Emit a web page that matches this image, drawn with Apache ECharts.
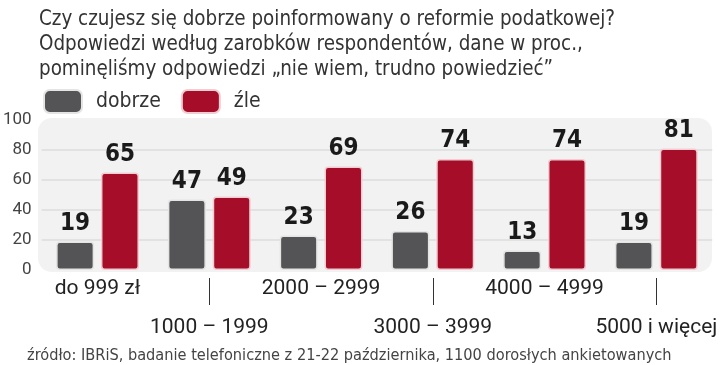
<!DOCTYPE html>
<html>
<head>
<meta charset="utf-8">
<script src="https://cdn.jsdelivr.net/npm/echarts@6/dist/echarts.min.js"></script>
<style>html,body{margin:0;padding:0;background:#fff;}#c{width:720px;height:365px;}</style>
</head>
<body>
<div id="c"></div>
<script>
const titleLines = [
  'Czy czujesz się dobrze poinformowany o reformie podatkowej?',
  'Odpowiedzi według zarobków respondentów, dane w proc.,',
  'pominęliśmy odpowiedzi \u201enie wiem, trudno powiedzieć\u201d'
];
const sourceText = 'źródło: IBRiS, badanie telefoniczne z 21-22 października, 1100 dorosłych ankietowanych';
const categories = ['do 999 zł', '1000 – 1999', '2000 – 2999', '3000 – 3999', '4000 – 4999', '5000 i więcej'];
const seriesNames = ['dobrze', 'źle'];
const dobrze = [19, 47, 23, 26, 13, 19];
const zle = [65, 49, 69, 74, 74, 81];
const yTicks = [0, 20, 40, 60, 80, 100];

const chart = echarts.init(document.getElementById('c'));
const narrow = "'DejaVu Sans Condensed', 'Liberation Sans Narrow', sans-serif";
const labelFont = "'DejaVu Sans Condensed', 'Liberation Sans Narrow', sans-serif";

chart.setOption({
  animation: false,
  backgroundColor: '#fff',
  title: [{
    text: titleLines.join('\n'),
    left: 34, top: 2,
    textStyle: { fontFamily: narrow, fontSize: 20.4, fontWeight: 'normal', color: '#333', lineHeight: 25 }
  }, {
    text: sourceText,
    left: 22, top: 343,
    textStyle: { fontFamily: narrow, fontSize: 16.2, fontWeight: 'normal', color: '#444' }
  }],
  graphic: [{
    type: 'rect', z: -10, silent: true,
    shape: { x: 38, y: 118, width: 674, height: 154, r: 14 },
    style: { fill: '#f2f2f2' }
  }],
  legend: {
    left: 38, top: 84,
    itemWidth: 38, itemHeight: 23, itemGap: 20,
    icon: 'roundRect',
    textStyle: { fontFamily: narrow, fontSize: 21, color: '#333', padding: [0, 0, 0, 9] },
    data: seriesNames
  },
  grid: { left: 39, right: 7, top: 120, bottom: 95, containLabel: false },
  xAxis: [{
    type: 'category', data: categories,
    axisLine: { show: false }, axisTick: { show: false },
    axisLabel: {
      interval: 0, margin: 8, color: '#222', verticalAlign: 'top',
      fontFamily: 'Roboto', fontSize: 21,
      formatter: function (v, i) { return (i % 2 ? '{b|' : '{a|') + v + '}'; },
      rich: {
        a: { fontFamily: 'Roboto', fontSize: 21, lineHeight: 22, color: '#222' },
        b: { fontFamily: 'Roboto', fontSize: 21, lineHeight: 22, color: '#222', padding: [78, 0, 0, 0] }
      }
    }
  }, {
    type: 'category', data: categories, position: 'bottom', offset: 8,
    axisLine: { show: false },
    axisLabel: { show: false },
    axisTick: {
      show: true, alignWithLabel: true, length: 27,
      interval: function (i) { return i % 2 === 1; },
      lineStyle: { color: '#333', width: 1 }
    }
  }],
  yAxis: {
    type: 'value', min: yTicks[0], max: yTicks[yTicks.length - 1], interval: 20,
    axisLine: { show: false }, axisTick: { show: false },
    axisLabel: { margin: 10, color: '#444', fontFamily: 'Roboto', fontSize: 17 },
    splitLine: { lineStyle: { color: ['transparent', '#dcdcdc', '#dcdcdc', '#dcdcdc', '#dcdcdc', 'transparent'], width: 1.5 } }
  },
  series: [{
    name: seriesNames[0], type: 'bar', data: dobrze,
    barWidth: 38, barGap: '18%',
    itemStyle: { color: '#545457', borderColor: '#e4e4e4', borderWidth: 1.5, borderRadius: 3 },
    label: { show: true, position: 'top', distance: 6, fontFamily: labelFont, fontWeight: 'bold', fontSize: 24, color: '#1a1a1a' }
  }, {
    name: seriesNames[1], type: 'bar', data: zle,
    barWidth: 38, barGap: '18%',
    itemStyle: { color: '#a50d29', borderColor: '#f0cdd3', borderWidth: 1.5, borderRadius: 3 },
    label: { show: true, position: 'top', distance: 6, fontFamily: labelFont, fontWeight: 'bold', fontSize: 24, color: '#1a1a1a' }
  }]
});
</script>
</body>
</html>
